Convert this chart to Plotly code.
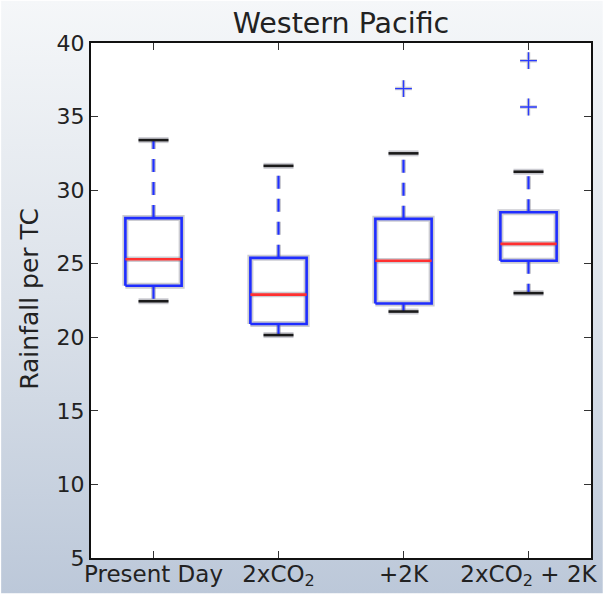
import base64
import plotly.graph_objects as go

# Rainfall per tropical cyclone, Western Pacific, for four climate experiments
categories = ["Present Day", "2xCO<sub>2</sub>", "+2K", "2xCO<sub>2</sub> + 2K"]
lower_whisker = [22.45, 20.15, 21.75, 23.0]
q1 = [23.5, 20.9, 22.3, 25.2]
median = [25.3, 22.9, 25.2, 26.35]
q3 = [28.1, 25.4, 28.05, 28.5]
upper_whisker = [33.4, 31.65, 32.5, 31.25]
outliers = [[], [], [36.9], [35.65, 38.8]]
y_ticks = [5, 10, 15, 20, 25, 30, 35, 40]

W, H = 609, 602
M_L, M_R, M_T, M_B = 91, 12, 43, 36
PW, PH = W - M_L - M_R, H - M_T - M_B

BOX_HALF = 0.225
CAP_HALF = 0.12
FONT = "DejaVu Sans"
TEXT = "#222222"
HALO = "rgba(110,110,125,0.35)"

positions = list(range(1, len(categories) + 1))


def segments(pairs):
    xs, ys = [], []
    for px, py in pairs:
        xs += list(px) + [None]
        ys += list(py) + [None]
    return xs, ys


box_x, box_y = segments(
    ([p - BOX_HALF, p + BOX_HALF, p + BOX_HALF, p - BOX_HALF, p - BOX_HALF],
     [a, a, b, b, a])
    for p, a, b in zip(positions, q1, q3)
)
med_x, med_y = segments(
    ([p - BOX_HALF, p + BOX_HALF], [m, m]) for p, m in zip(positions, median)
)
whisk_pairs = []
for p, a, b, lo, hi in zip(positions, q1, q3, lower_whisker, upper_whisker):
    whisk_pairs.append(([p, p], [b, hi]))
    whisk_pairs.append(([p, p], [a, lo]))
wh_x, wh_y = segments(whisk_pairs)
cap_pairs = []
for p, lo, hi in zip(positions, lower_whisker, upper_whisker):
    cap_pairs.append(([p - CAP_HALF, p + CAP_HALF], [hi, hi]))
    cap_pairs.append(([p - CAP_HALF, p + CAP_HALF], [lo, lo]))
cap_x, cap_y = segments(cap_pairs)
out_x = [p for p, vals in zip(positions, outliers) for _ in vals]
out_y = [v for vals in outliers for v in vals]

fig = go.Figure()


def add_line(xs, ys, color, width, dash="solid"):
    fig.add_trace(go.Scatter(
        x=xs, y=ys, mode="lines", showlegend=False, hoverinfo="skip",
        line=dict(color=color, width=width, dash=dash),
    ))


DASH = "13px,10px"
# soft grey halo under every element
add_line(wh_x, wh_y, HALO, 5, DASH)
add_line(box_x, box_y, HALO, 6)
add_line(med_x, med_y, HALO, 5.5)
add_line(cap_x, cap_y, HALO, 6)
# coloured elements
add_line(wh_x, wh_y, "#2030ff", 2.2, DASH)
add_line(box_x, box_y, "#1f2dff", 2.6)
add_line(med_x, med_y, "#ff3030", 2.6)
add_line(cap_x, cap_y, "#1a1a1a", 2.6)
fig.add_trace(go.Scatter(
    x=out_x, y=out_y, mode="markers", showlegend=False, hoverinfo="skip",
    marker=dict(symbol="cross-thin", size=12, line=dict(color=HALO, width=3.5)),
))
fig.add_trace(go.Scatter(
    x=out_x, y=out_y, mode="markers", showlegend=False, hoverinfo="skip",
    marker=dict(symbol="cross-thin", size=12, line=dict(color="#2a3aff", width=1.4)),
))

# vertical background gradient behind the whole figure
svg = (
    f'<svg xmlns="http://www.w3.org/2000/svg" width="{W}" height="{H}" '
    f'viewBox="0 0 {W} {H}" preserveAspectRatio="none">'
    '<defs><linearGradient id="g" x1="0" y1="0" x2="0" y2="1">'
    '<stop offset="0" stop-color="#f5f7f9"/>'
    '<stop offset="0.5" stop-color="#dce2ea"/>'
    '<stop offset="1" stop-color="#bcc8d9"/>'
    '</linearGradient></defs>'
    f'<rect width="{W}" height="{H}" fill="url(#g)"/></svg>'
)
bg_src = "data:image/svg+xml;base64," + base64.b64encode(svg.encode()).decode()

axis_common = dict(
    showgrid=False, zeroline=False, showline=True, linecolor="#111111",
    linewidth=2, mirror="ticks", ticks="inside", ticklen=7, tickwidth=1.2,
    tickcolor="#333333",
)

fig.update_layout(
    width=W, height=H,
    margin=dict(l=M_L, r=M_R, t=M_T, b=M_B, pad=0),
    paper_bgcolor="rgba(0,0,0,0)",
    plot_bgcolor="#ffffff",
    title=dict(
        text="Western Pacific", x=0.5, xref="paper", xanchor="center",
        y=1 - 23 / H, yref="container", yanchor="middle",
        font=dict(family=FONT, size=28.5, color=TEXT),
    ),
    xaxis=dict(
        range=[0.5, 4.5], tickmode="array", tickvals=positions,
        ticktext=categories, tickfont=dict(family=FONT, size=23, color=TEXT),
        ticklabelstandoff=-6, **axis_common,
    ),
    yaxis=dict(
        range=[5, 40], tickmode="array", tickvals=y_ticks,
        ticktext=[str(v) for v in y_ticks],
        tickfont=dict(family=FONT, size=22, color=TEXT), **axis_common,
    ),
    images=[dict(
        source=bg_src, xref="paper", yref="paper",
        x=-M_L / PW, y=1 + M_T / PH, sizex=W / PW, sizey=H / PH,
        xanchor="left", yanchor="top", sizing="stretch", layer="below",
    )],
    shapes=[dict(
        type="rect", xref="x domain", yref="y domain", x0=0, x1=1, y0=0, y1=1,
        fillcolor="#ffffff", line=dict(width=0), layer="below",
    )],
    annotations=[dict(
        text="Rainfall per TC", textangle=-90, showarrow=False,
        xref="paper", yref="paper",
        x=(28 - M_L) / PW, y=(H - M_B - 303) / PH,
        xanchor="center", yanchor="middle",
        font=dict(family=FONT, size=25, color=TEXT),
    )],
)

fig.write_html("out.html")
